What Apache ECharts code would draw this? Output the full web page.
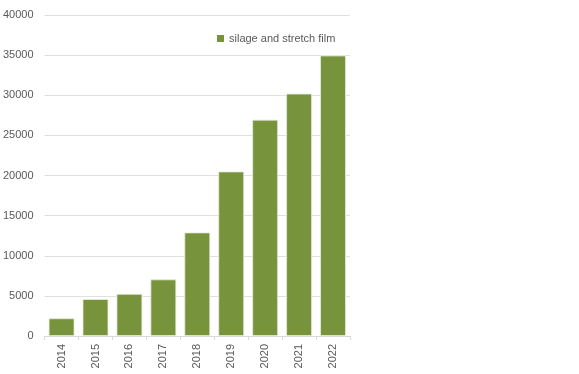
<!DOCTYPE html>
<html><head><meta charset="utf-8">
<script src="https://cdn.jsdelivr.net/npm/echarts@6/dist/echarts.min.js"></script>
<style>html,body{margin:0;padding:0;background:#fff}#c{width:579px;height:374px}</style>
</head><body><div id="c"></div>
<script>
const categories = ['2014','2015','2016','2017','2018','2019','2020','2021','2022'];
const seriesName = 'silage and stretch film';
const values = [2200, 4600, 5250, 7050, 12900, 20500, 26950, 30200, 34950];
const yTicks = [0, 5000, 10000, 15000, 20000, 25000, 30000, 35000, 40000];

const chart = echarts.init(document.getElementById('c'), null, {renderer:'canvas'});
const font = 'Liberation Sans, Arial, sans-serif';
chart.setOption({
  animation: false,
  textStyle: {fontFamily: font},
  grid: {left: 44, right: 229, top: 15, bottom: 38, containLabel: false},
  legend: {
    data: [{name: seriesName, itemStyle: {borderWidth: 0}}], top: 28, left: 212, itemWidth: 7, itemHeight: 7, itemGap: 4,
    icon: 'rect', textStyle: {fontSize: 11, color: '#595959', fontFamily: font}
  },
  xAxis: {
    type: 'category', data: categories,
    axisLine: {lineStyle: {color: '#d9d9d9'}},
    axisTick: {show: true, lineStyle: {color: '#d9d9d9'}, length: 4},
    axisLabel: {rotate: 90, fontSize: 11, color: '#595959', margin: 8}
  },
  yAxis: {
    type: 'value', min: yTicks[0], max: yTicks[yTicks.length-1], interval: 5000,
    axisLine: {show: false}, axisTick: {show: false},
    splitLine: {lineStyle: {color: '#e0e0e0'}},
    axisLabel: {fontSize: 11, color: '#595959', margin: 11, formatter: v => String(v)}
  },
  series: [{
    name: seriesName, type: 'bar', data: values, barCategoryGap: '24%',
    itemStyle: {color: '#77933C', borderColor: '#e8eddc', borderWidth: 0.8}
  }]
});
</script></body></html>
